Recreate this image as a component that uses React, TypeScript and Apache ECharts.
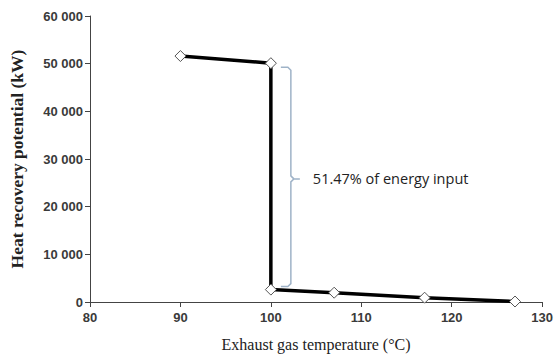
import React, { useEffect, useRef } from "react";
import * as echarts from "echarts";

const temperatures = [90, 100, 100, 107, 117, 127];
const potentials = [51600, 50100, 2600, 1950, 900, 100];
const bracketSpan = [100, 50100, 2600];
const annotation = "51.47% of energy input";
const xTitle = "Exhaust gas temperature (°C)";
const yTitle = "Heat recovery potential (kW)";

const fmt = (v: number) =>
  v === 0 ? "0" : String(v).replace(/\B(?=(\d{3})+(?!\d))/g, " ");

export default function App() {
  const ref = useRef<HTMLDivElement>(null);
  useEffect(() => {
    const chart = echarts.init(ref.current!, null, { renderer: "svg" });
    const bracketColor = "#9fb3c8";
    const tickLabel = {
      fontFamily: "Liberation Sans",
      fontSize: 13,
      fontWeight: "bold",
      color: "#3a3a3a",
    };
    chart.setOption({
      animation: false,
      grid: { left: 88, right: 11, top: 16, bottom: 54 },
      xAxis: {
        type: "value",
        min: 80,
        max: 130,
        interval: 10,
        name: xTitle,
        nameLocation: "middle",
        nameGap: 34,
        nameTextStyle: {
          fontFamily: "Liberation Serif",
          fontSize: 16,
          color: "#222",
        },
        axisLine: { lineStyle: { color: "#444", width: 1 } },
        axisTick: { show: true, length: 5, lineStyle: { color: "#444" } },
        axisLabel: { ...tickLabel, margin: 9 },
        splitLine: { show: false },
      },
      yAxis: {
        type: "value",
        min: 0,
        max: 60000,
        interval: 10000,
        name: yTitle,
        nameLocation: "middle",
        nameGap: 64,
        nameTextStyle: {
          fontFamily: "Liberation Serif",
          fontSize: 17.5,
          fontWeight: "bold",
          color: "#222",
        },
        axisLine: { show: true, lineStyle: { color: "#444", width: 1 } },
        axisTick: { show: true, length: 5, lineStyle: { color: "#444" } },
        axisLabel: {
          ...tickLabel,
          margin: 7,
          formatter: (v: number) => fmt(v),
        },
        splitLine: { show: false },
      },
      series: [
        {
          type: "line",
          data: temperatures.map((t, i) => [t, potentials[i]]),
          lineStyle: { color: "#000", width: 3.5 },
          symbol: "diamond",
          symbolSize: 11,
          itemStyle: { color: "#fff", borderColor: "#555", borderWidth: 1 },
          z: 3,
        },
        {
          type: "custom",
          data: [bracketSpan],
          silent: true,
          z: 2,
          renderItem: (params: any, api: any) => {
            const top = api.coord([api.value(0), api.value(1)]);
            const bot = api.coord([api.value(0), api.value(2)]);
            const x = top[0] + 20;
            const y1 = top[1] + 4;
            const y2 = bot[1] - 3;
            const ym = (y1 + y2) / 2 + 2;
            return {
              type: "group",
              children: [
                {
                  type: "polyline",
                  shape: {
                    points: [
                      [x - 10, y1],
                      [x - 3, y1],
                      [x, y1 + 3],
                      [x, ym - 3],
                      [x + 3, ym],
                      [x + 9, ym],
                      [x + 3, ym],
                      [x, ym + 3],
                      [x, y2 - 3],
                      [x - 3, y2],
                      [x - 10, y2],
                    ],
                  },
                  style: { stroke: bracketColor, lineWidth: 1.5, fill: null },
                },
                {
                  type: "text",
                  x: x + 22,
                  y: ym,
                  style: {
                    text: annotation,
                    fontFamily: "Open Sans",
                    fontSize: 14.5,
                    fill: "#222",
                    verticalAlign: "middle",
                    align: "left",
                  },
                },
              ],
            };
          },
        },
      ],
    });
    return () => chart.dispose();
  }, []);
  return (
    <div
      ref={ref}
      style={{
        position: "absolute",
        left: 0,
        top: 0,
        width: 556,
        height: 357,
        overflow: "hidden",
      }}
    />
  );
}
